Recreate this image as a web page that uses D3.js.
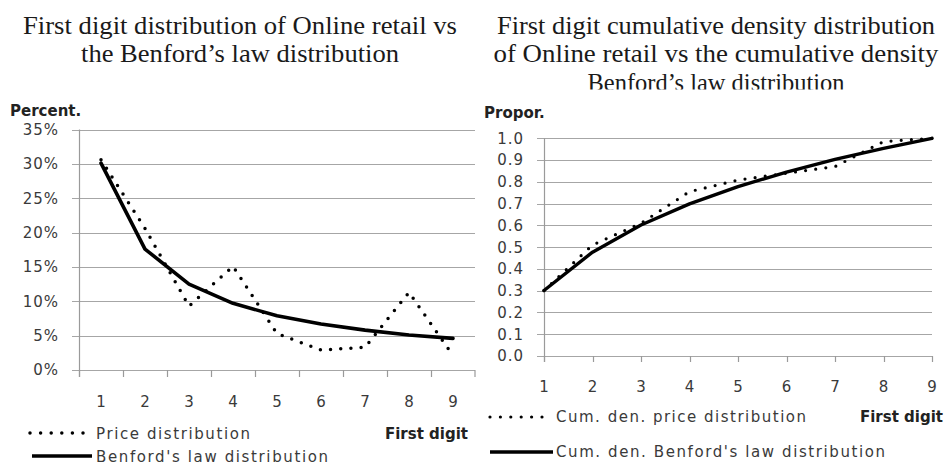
<!DOCTYPE html>
<html>
<head>
<meta charset="utf-8">
<script src="https://cdn.jsdelivr.net/npm/d3@7"></script>
<style>
  body { margin: 0; background: #fff; }
  svg text { font-family: "DejaVu Sans", Verdana, sans-serif; }
  svg text.title { font-family: "Liberation Serif", "Times New Roman", serif; font-size: 26px; fill: #1a1a1a; }
  .tick-lbl { font-size: 15px; fill: #3a3a3a; letter-spacing: 1px; }
  .lbl-bold { font-size: 15px; font-weight: bold; fill: #222; }
  .legend { font-size: 15px; fill: #3a3a3a; }
  .grid { stroke: #a6a6a6; stroke-width: 1.2; }
  .axis { stroke: #9a9a9a; stroke-width: 1.2; }
</style>
</head>
<body>
<script>
// values
var digits = [1, 2, 3, 4, 5, 6, 7, 8, 9];
var pricePct   = [30.6, 20.6, 9.3, 15.1, 5.3, 2.9, 3.3, 11.3, 2.1];
var benfordPct = [30.1, 17.6, 12.5, 9.7, 7.9, 6.7, 5.8, 5.1, 4.6];
var cumPrice   = [0.30, 0.51, 0.61, 0.755, 0.808, 0.84, 0.87, 0.985, 1.0];
var cumBenford = [0.301, 0.477, 0.602, 0.699, 0.778, 0.845, 0.903, 0.954, 1.0];
var pctTicks  = [0, 5, 10, 15, 20, 25, 30, 35];
var propTicks = [0, 0.1, 0.2, 0.3, 0.4, 0.5, 0.6, 0.7, 0.8, 0.9, 1.0];

var leftTitle  = ["First digit distribution of Online retail vs", "the Benford\u2019s law distribution"];
var rightTitle = ["First digit cumulative density distribution", "of Online retail vs the cumulative density", "Benford\u2019s law distribution"];

var width = 946, height = 464;
var svg = d3.select("body").append("svg")
  .attr("width", width)
  .attr("height", height);

// titles
var ltw = [434, 318], rtw = [438, 445, 257];
svg.selectAll(".lt").data(leftTitle).enter().append("text")
  .attr("class", "title")
  .attr("x", 240).attr("y", function(d, i) { return 33.5 + i * 28; })
  .attr("text-anchor", "middle")
  .attr("textLength", function(d, i) { return ltw[i]; })
  .attr("lengthAdjust", "spacingAndGlyphs")
  .text(function(d) { return d; });
svg.selectAll(".rt").data(rightTitle).enter().append("text")
  .attr("class", "title")
  .attr("x", 716).attr("y", function(d, i) { return 33.5 + i * 28.5; })
  .attr("text-anchor", "middle")
  .attr("textLength", function(d, i) { return rtw[i]; })
  .attr("lengthAdjust", "spacingAndGlyphs")
  .text(function(d) { return d; });

// the chart pictures cover the bottom of the 3rd title line
svg.append("rect").attr("x", 470).attr("y", 89.5).attr("width", 476).attr("height", 380).attr("fill", "#fff");

// ---------- left chart ----------
var x1 = d3.scaleBand().domain(digits).range([79, 475]).padding(0);
var y1 = d3.scaleLinear().domain([0, 35]).range([370, 129.5]);
var g1 = svg.append("g");

g1.selectAll(".grid").data(pctTicks).enter().append("line")
  .attr("class", "grid")
  .attr("x1", 72).attr("x2", 475)
  .attr("y1", function(d) { return Math.round(y1(d)) + 0.5; })
  .attr("y2", function(d) { return Math.round(y1(d)) + 0.5; });
g1.append("line").attr("class", "axis")
  .attr("x1", 79.5).attr("x2", 79.5).attr("y1", y1(35)).attr("y2", 377);
g1.selectAll(".xt").data(digits.concat([10])).enter().append("line")
  .attr("class", "axis")
  .attr("x1", function(d) { return d == 10 ? 475 : Math.round(x1(d)) + 0.5; })
  .attr("x2", function(d) { return d == 10 ? 475 : Math.round(x1(d)) + 0.5; })
  .attr("y1", 370).attr("y2", 377);

g1.selectAll(".yl").data(pctTicks).enter().append("text")
  .attr("class", "tick-lbl")
  .attr("x", 59).attr("y", function(d) { return y1(d); })
  .attr("dy", "0.36em")
  .attr("text-anchor", "end")
  .text(function(d) { return d + "%"; });
g1.selectAll(".xl").data(digits).enter().append("text")
  .attr("class", "tick-lbl")
  .attr("x", function(d) { return x1(d) + x1.bandwidth() / 2 + 0.5; })
  .attr("y", 406.5)
  .attr("text-anchor", "middle")
  .text(function(d) { return d; });

g1.append("text").attr("class", "lbl-bold").attr("x", 10).attr("y", 115.5).text("Percent.");
g1.append("text").attr("class", "lbl-bold").attr("x", 468).attr("y", 438.5)
  .attr("text-anchor", "end").text("First digit");

var line1 = d3.line()
  .x(function(d, i) { return x1(digits[i]) + x1.bandwidth() / 2; })
  .y(function(d) { return y1(d); });

g1.append("path").datum(benfordPct)
  .attr("d", line1).attr("fill", "none")
  .attr("stroke", "#000").attr("stroke-width", 3.6)
  .attr("stroke-linejoin", "round").attr("stroke-linecap", "round");
g1.append("path").datum(pricePct)
  .attr("d", line1).attr("fill", "none")
  .attr("stroke", "#000").attr("stroke-width", 3.5)
  .attr("stroke-dasharray", "0 10.2")
  .attr("stroke-linecap", "round");

// legend
g1.append("line").attr("x1", 30).attr("x2", 84).attr("y1", 433).attr("y2", 433)
  .attr("stroke", "#000").attr("stroke-width", 3.5)
  .attr("stroke-dasharray", "0 10.6").attr("stroke-linecap", "round");
g1.append("text").attr("class", "legend").attr("x", 96).attr("y", 438.5)
  .attr("textLength", 154).attr("lengthAdjust", "spacing").text("Price distribution");
g1.append("line").attr("x1", 32).attr("x2", 92).attr("y1", 456).attr("y2", 456)
  .attr("stroke", "#000").attr("stroke-width", 3.6);
g1.append("text").attr("class", "legend").attr("x", 96).attr("y", 461.5)
  .attr("textLength", 232).attr("lengthAdjust", "spacing").text("Benford's law distribution");

// ---------- right chart ----------
var x2 = d3.scaleLinear().domain([1, 9]).range([544, 932]);
var y2 = d3.scaleLinear().domain([0, 1]).range([356, 138.3]);
var g2 = svg.append("g");

g2.selectAll(".grid").data(propTicks).enter().append("line")
  .attr("class", "grid")
  .attr("x1", 537).attr("x2", 932)
  .attr("y1", function(d) { return Math.round(y2(d)) + 0.5; })
  .attr("y2", function(d) { return Math.round(y2(d)) + 0.5; });
g2.append("line").attr("class", "axis")
  .attr("x1", 544.5).attr("x2", 544.5).attr("y1", y2(1)).attr("y2", 362);
g2.selectAll(".xt").data(digits).enter().append("line")
  .attr("class", "axis")
  .attr("x1", function(d) { return Math.round(x2(d)) + 0.5; })
  .attr("x2", function(d) { return Math.round(x2(d)) + 0.5; })
  .attr("y1", 356).attr("y2", 362);

g2.selectAll(".yl").data(propTicks).enter().append("text")
  .attr("class", "tick-lbl")
  .attr("x", 524).attr("y", function(d) { return y2(d); })
  .attr("dy", "0.36em")
  .attr("text-anchor", "end")
  .text(function(d) { return d3.format(".1f")(d); });
g2.selectAll(".xl").data(digits).enter().append("text")
  .attr("class", "tick-lbl")
  .attr("x", function(d) { return x2(d) + 0.5; })
  .attr("y", 392)
  .attr("text-anchor", "middle")
  .text(function(d) { return d; });

g2.append("text").attr("class", "lbl-bold").attr("x", 484).attr("y", 118).text("Propor.");
g2.append("text").attr("class", "lbl-bold").attr("x", 943).attr("y", 422)
  .attr("text-anchor", "end").text("First digit");

var line2 = d3.line()
  .x(function(d, i) { return x2(digits[i]); })
  .y(function(d) { return y2(d); });

g2.append("path").datum(cumBenford)
  .attr("d", line2).attr("fill", "none")
  .attr("stroke", "#000").attr("stroke-width", 3.4)
  .attr("stroke-linejoin", "round").attr("stroke-linecap", "round");
g2.append("path").datum(cumPrice)
  .attr("d", line2).attr("fill", "none")
  .attr("stroke", "#000").attr("stroke-width", 3.2)
  .attr("stroke-dasharray", "0 10.2")
  .attr("stroke-linecap", "round");

g2.append("line").attr("x1", 490).attr("x2", 542).attr("y1", 417).attr("y2", 417)
  .attr("stroke", "#000").attr("stroke-width", 3.2)
  .attr("stroke-dasharray", "0 10.4").attr("stroke-linecap", "round");
g2.append("text").attr("class", "legend").attr("x", 556).attr("y", 422)
  .attr("textLength", 250).attr("lengthAdjust", "spacing").text("Cum. den. price distribution");
g2.append("line").attr("x1", 490).attr("x2", 553).attr("y1", 452).attr("y2", 452)
  .attr("stroke", "#000").attr("stroke-width", 3.6);
g2.append("text").attr("class", "legend").attr("x", 556).attr("y", 457)
  .attr("textLength", 329).attr("lengthAdjust", "spacing").text("Cum. den. Benford's law distribution");
</script>
</body>
</html>
